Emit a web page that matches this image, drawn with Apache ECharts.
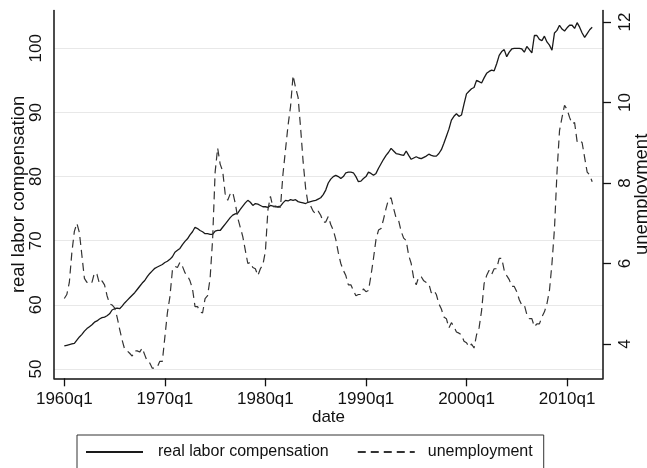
<!DOCTYPE html>
<html>
<head>
<meta charset="utf-8">
<script src="https://cdn.jsdelivr.net/npm/echarts@6/dist/echarts.min.js"></script>
<style>
html,body{margin:0;padding:0;background:#fff;}
#chart{width:647px;height:468px;}
</style>
</head>
<body>
<div id="chart"></div>
<script>
// quarterly data, first value = 1960q1
var startYear = 1960;
var laborComp = [
  53.6, 53.7, 53.8, 53.9,  54.0, 54.5, 55.0, 55.4,  55.9, 56.3, 56.6, 56.9,  57.3, 57.5, 57.8, 58.0,
  58.1, 58.3, 58.6, 59.2,  59.4, 59.5, 59.4, 59.8,  60.3, 60.7, 61.1, 61.5,  61.9, 62.4, 62.9, 63.4,
  63.8, 64.4, 64.9, 65.3,  65.7, 65.9, 66.1, 66.3,  66.6, 66.8, 67.1, 67.5,  68.2, 68.5, 68.8, 69.4,
  69.9, 70.3, 70.9, 71.4,  72.1, 71.9, 71.6, 71.4,  71.1, 71.1, 71.0, 71.0,  71.5, 71.6, 71.6, 72.1,
  72.6, 73.1, 73.6, 74.0,  74.2, 74.3, 74.9, 75.4,  75.9, 76.3, 76.0, 75.5,  75.8, 75.7, 75.5, 75.3,
  75.3, 75.2, 75.5, 75.4,  75.3, 75.3, 75.4, 75.9,  76.3, 76.2, 76.4, 76.3,  76.4, 76.1, 76.0, 75.9,
  75.8, 76.0, 76.1, 76.2,  76.3, 76.5, 76.7, 77.2,  77.9, 79.0, 79.6, 80.0,  80.2, 80.0, 79.7, 80.0,
  80.6, 80.7, 80.7, 80.6,  80.0, 79.2, 79.3, 79.7,  80.0, 80.7, 80.5, 80.2,  80.5, 81.3, 82.0, 82.7,
  83.3, 83.8, 84.4, 84.0,  83.6, 83.5, 83.4, 83.3,  84.0, 83.3, 82.7, 82.9,  83.1, 82.9, 82.8, 83.0,
  83.2, 83.5, 83.3, 83.2,  83.2, 83.6, 84.2, 85.2,  86.3, 87.4, 88.8, 89.4,  89.8, 89.4, 89.6, 91.3,
  92.9, 93.3, 93.7, 93.9,  95.0, 94.8, 94.6, 95.4,  96.1, 96.4, 96.6, 96.5,  97.6, 98.9, 99.5, 99.8,
  98.7, 99.4, 99.9, 100.0, 100.0, 100.0, 99.9, 99.4, 100.3, 99.8, 99.3, 102.0, 102.0, 101.4, 101.2, 101.9,
  101.0, 100.5, 99.7, 102.4, 102.8, 103.6, 103.0, 102.7, 103.2, 103.6, 103.6, 103.1, 104.0, 103.3, 102.4, 101.7,
  102.3, 102.9, 103.3
];
var unemployment = [
  5.13, 5.23, 5.53, 6.27,  6.80, 7.00, 6.77, 6.20,  5.63, 5.53, 5.57, 5.53,  5.77, 5.73, 5.50, 5.57,
  5.47, 5.20, 5.00, 4.97,  4.90, 4.67, 4.37, 4.10,  3.87, 3.83, 3.77, 3.70,  3.83, 3.83, 3.80, 3.90,
  3.73, 3.57, 3.53, 3.40,  3.40, 3.43, 3.57, 3.57,  4.17, 4.77, 5.17, 5.83,  5.93, 5.90, 6.03, 5.93,
  5.77, 5.70, 5.57, 5.37,  4.93, 4.93, 4.80, 4.77,  5.13, 5.20, 5.63, 6.60,  8.27, 8.87, 8.47, 8.30,
  7.73, 7.57, 7.73, 7.77,  7.50, 7.13, 6.90, 6.67,  6.33, 6.00, 6.03, 5.90,  5.87, 5.70, 5.87, 5.97,
  6.30, 7.33, 7.67, 7.40,  7.43, 7.40, 7.40, 8.23,  8.83, 9.43, 9.90, 10.67, 10.37, 10.13, 9.37, 8.53,
  7.87, 7.47, 7.43, 7.30,  7.23, 7.30, 7.20, 7.03,  7.03, 7.17, 6.97, 6.83,  6.60, 6.27, 6.00, 5.83,
  5.70, 5.47, 5.47, 5.33,  5.20, 5.23, 5.23, 5.37,  5.30, 5.33, 5.70, 6.13,  6.60, 6.83, 6.87, 7.10,
  7.37, 7.60, 7.63, 7.37,  7.13, 7.07, 6.80, 6.63,  6.57, 6.20, 6.00, 5.63,  5.47, 5.67, 5.67, 5.57,
  5.53, 5.50, 5.27, 5.33,  5.23, 5.00, 4.87, 4.67,  4.63, 4.40, 4.53, 4.43,  4.30, 4.27, 4.23, 4.07,
  4.03, 3.93, 4.00, 3.90,  4.23, 4.40, 4.83, 5.50,  5.70, 5.83, 5.73, 5.87,  5.87, 6.13, 6.13, 5.83,
  5.70, 5.60, 5.43, 5.43,  5.30, 5.10, 4.97, 4.97,  4.73, 4.63, 4.63, 4.43,  4.50, 4.50, 4.67, 4.80,
  5.00, 5.33, 6.00, 6.87,  8.27, 9.30, 9.63, 9.93,  9.83, 9.63, 9.47, 9.50,  9.03, 9.07, 9.00, 8.63,
  8.27, 8.20, 8.03
];
var xTickQuarters = [0, 40, 80, 120, 160, 200];
var leftTicks = [50, 60, 70, 80, 90, 100];
var rightTicks = [4, 6, 8, 10, 12];

var FONT = '"Liberation Sans", Arial, Helvetica, sans-serif';
var AXIS_COLOR = '#111';
var chart = echarts.init(document.getElementById('chart'), null, {renderer: 'canvas'});
chart.setOption({
  animation: false,
  backgroundColor: '#ffffff',
  textStyle: {fontFamily: FONT, color: '#111'},
  grid: {left: 54, right: 44, top: 10.5, bottom: 89.7, outerBoundsMode: 'none', containLabel: false},
  xAxis: {
    type: 'value', min: -4.1, max: 214.3,
    name: 'date', nameLocation: 'middle', nameGap: 31, nameMoveOverlap: false,
    nameTextStyle: {fontSize: 17, color: '#111', fontFamily: FONT},
    axisLine: {show: true, onZero: false, lineStyle: {color: AXIS_COLOR, width: 1.5}},
    axisTick: {show: true, customValues: xTickQuarters, length: 8, lineStyle: {color: AXIS_COLOR, width: 1.3}},
    axisLabel: {customValues: xTickQuarters, fontSize: 17, color: '#111', margin: 13, fontFamily: FONT,
      formatter: function (v) { return (startYear + Math.round(v) / 4) + 'q1'; }},
    splitLine: {show: false}
  },
  yAxis: [{
    type: 'value', position: 'left', min: 48.55, max: 105.9,
    name: 'real labor compensation', nameLocation: 'middle', nameGap: 26, nameRotate: 90, nameMoveOverlap: false,
    nameTextStyle: {fontSize: 18.5, color: '#111', fontFamily: FONT},
    axisLine: {show: true, onZero: false, lineStyle: {color: AXIS_COLOR, width: 1.5}},
    axisTick: {show: false, customValues: leftTicks},
    axisLabel: {customValues: leftTicks, rotate: 90, fontSize: 17, color: '#111', margin: 9, fontFamily: FONT},
    splitLine: {show: true, lineStyle: {color: '#e8e8e8', width: 1.2}}
  }, {
    type: 'value', position: 'right', min: 3.148, max: 12.286,
    name: 'unemployment', nameLocation: 'middle', nameGap: 29, nameRotate: 90, nameMoveOverlap: false,
    nameTextStyle: {fontSize: 18.5, color: '#111', fontFamily: FONT},
    axisLine: {show: true, onZero: false, lineStyle: {color: AXIS_COLOR, width: 1.5}},
    axisTick: {show: true, customValues: rightTicks, length: 8, lineStyle: {color: AXIS_COLOR, width: 1.3}},
    axisLabel: {customValues: rightTicks, rotate: 90, fontSize: 17, color: '#111', margin: 14, fontFamily: FONT},
    splitLine: {show: false}
  }],
  legend: {
    left: 77, top: 435, orient: 'horizontal',
    padding: [9, 11, 9, 8], borderColor: '#333', borderWidth: 1,
    itemWidth: 57, itemHeight: 14, itemGap: 28,
    itemStyle: {opacity: 0},
    textStyle: {fontSize: 16, color: '#111', fontFamily: FONT, padding: [0, 0, 0, 10]},
    data: [
      {name: 'real labor compensation'},
      {name: 'unemployment', textStyle: {padding: [0, 0, 0, 8]}}
    ]
  },
  series: [{
    name: 'real labor compensation', type: 'line', yAxisIndex: 0,
    data: laborComp.map(function (v, i) { return [i, v]; }),
    symbol: 'none', smooth: false,
    lineStyle: {color: '#1a1a1a', width: 1.3},
    itemStyle: {color: '#1a1a1a'}
  }, {
    name: 'unemployment', type: 'line', yAxisIndex: 1,
    data: unemployment.map(function (v, i) { return [i, v]; }),
    symbol: 'none', smooth: false,
    lineStyle: {color: '#333', width: 1.2, type: [8, 5]},
    itemStyle: {color: '#333'}
  }]
});
</script>
</body>
</html>
